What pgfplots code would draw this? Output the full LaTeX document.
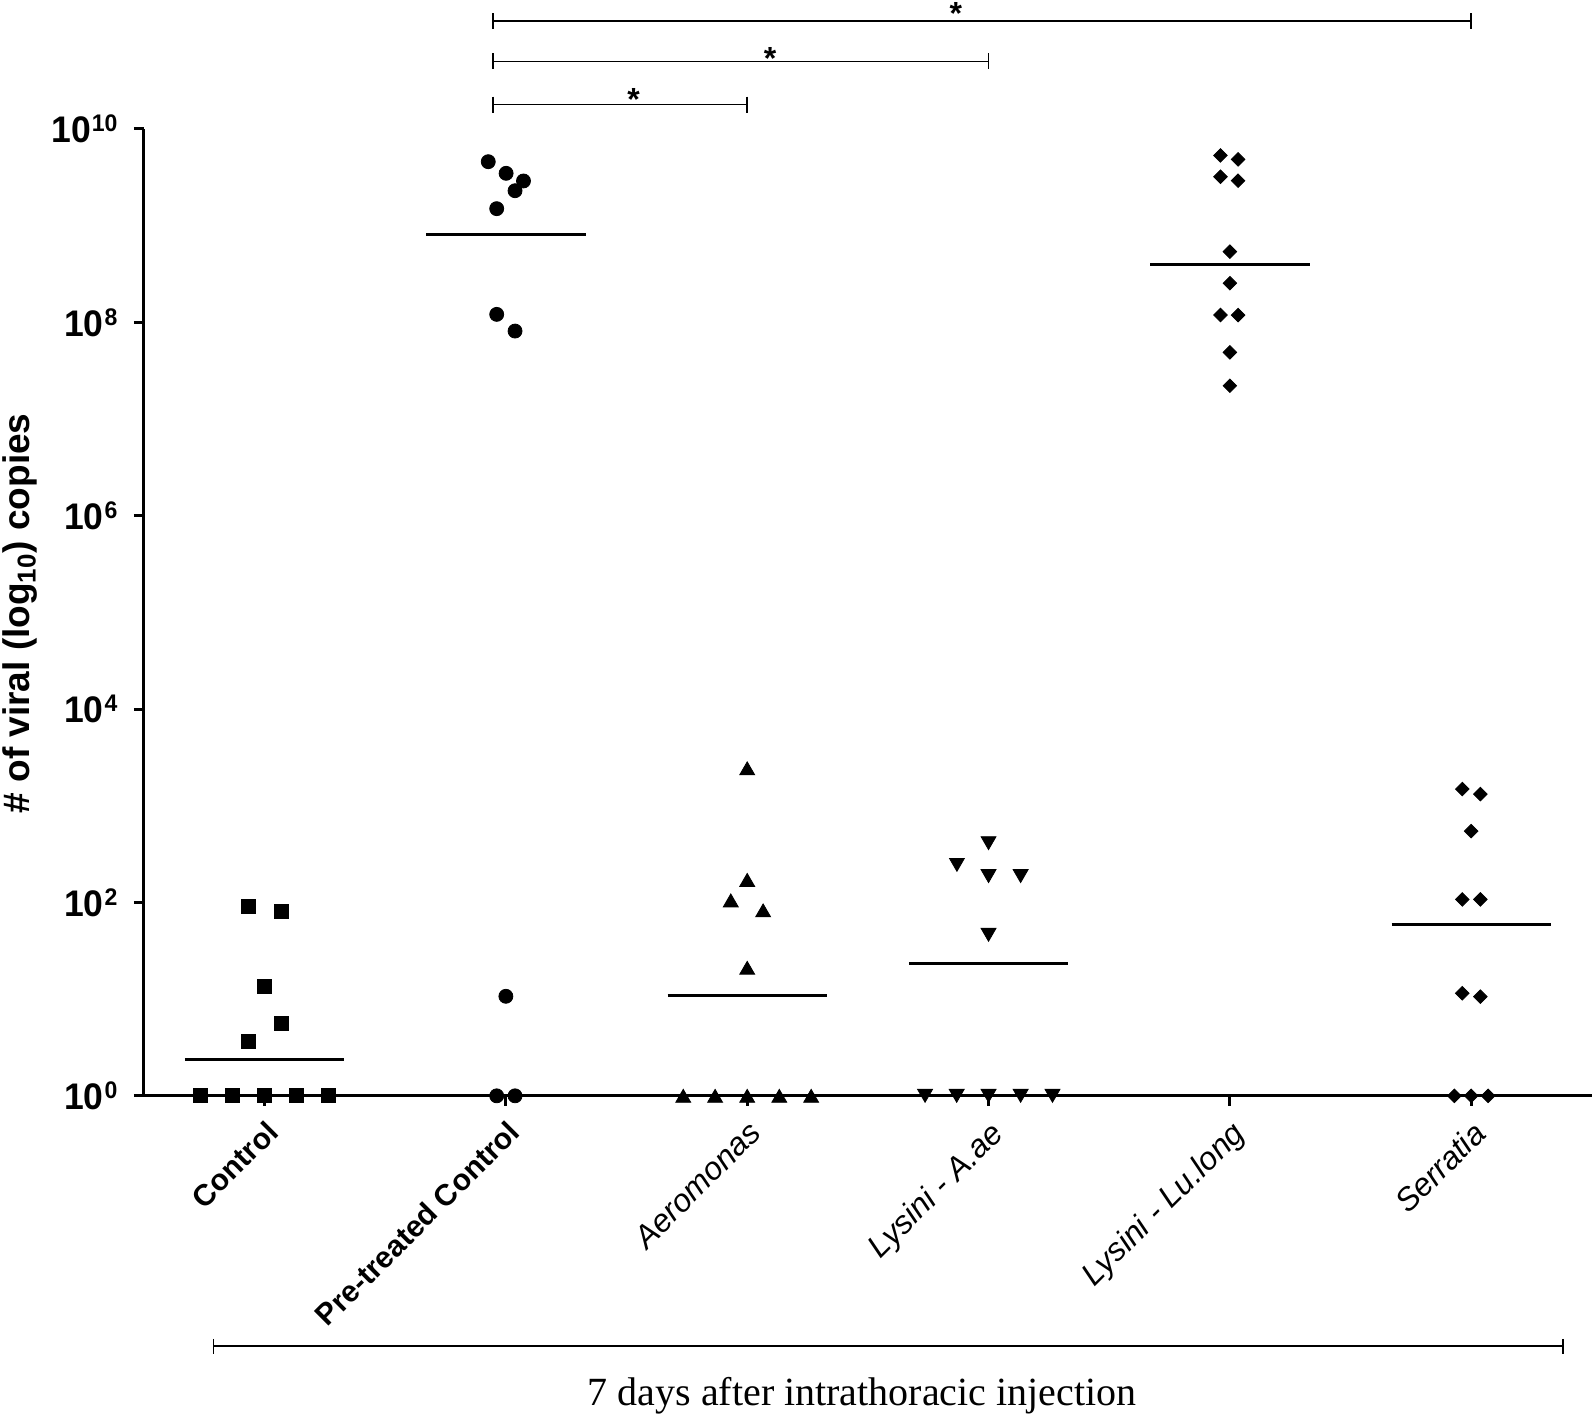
\documentclass[border=0pt]{standalone}
\usepackage{fontspec}
\setmainfont{Liberation Sans}
\newfontfamily\seriffont{Liberation Serif}
\usepackage{pgfplots}
\pgfplotsset{compat=1.18}
\newcommand{\ylab}[1]{\scalebox{0.96}[1]{\fontsize{18.5}{21}\selectfont\bfseries 10\hspace{0.5pt}\raisebox{5.5pt}{\fontsize{12}{13}\selectfont\bfseries #1}}}
\newcommand{\bracket}[5]{%
  \draw[line width=0.8pt] (axis cs:#1,#3) -- (axis cs:#2,#3);
  \draw[line width=0.8pt] (axis cs:#1,#3) ++(0pt,#4) -- ++(0pt,#5);
  \draw[line width=0.8pt] (axis cs:#2,#3) ++(0pt,#4) -- ++(0pt,#5);
}
\begin{document}
\begin{tikzpicture}
\begin{axis}[
  scale only axis, width=723.9pt, height=483.35pt,
  xmin=-0.5, xmax=5.5, ymode=log, ymin=1, ymax=1e10,
  axis x line=bottom, axis y line=left,
  axis line style={-, line width=1.5pt},
  clip=false,
  xtick={0,1,2,3,4,5},
  xticklabels={{\fontsize{15}{18}\selectfont\bfseries Control},{\fontsize{15}{18}\selectfont\bfseries Pre-treated Control},\textit{Aeromonas},\textit{Lysini - A.ae},\textit{Lysini - Lu.long},\textit{Serratia}},
  ytick={1,1e2,1e4,1e6,1e8,1e10},
  yticklabels={\ylab{0},\ylab{2},\ylab{4},\ylab{6},\ylab{8},\ylab{10}},
  yminorticks=false, xminorticks=false,
  tick align=outside, major tick length=5pt,
  every tick/.style={black, line width=1.5pt},
  xticklabel style={font=\fontsize{16}{19}\selectfont, yshift=-5pt, rotate=45, anchor=north east, inner sep=1pt},
  yticklabel style={anchor=east, inner sep=0pt, xshift=-8pt},
]
% Control
\addplot[only marks, mark=square*, mark size=3.5pt, black] coordinates {
(-0.265,1) (-0.133,1) (0,1) (0.133,1) (0.265,1)
(-0.067,90.2) (0.068,81.5) (0,13.7) (0.068,5.6) (-0.067,3.7)};
% Pre-treated Control
\addplot[only marks, mark=*, mark size=3.5pt, black] coordinates {
(0.927,4.59e9) (1.001,3.48e9) (1.073,2.90e9) (1.038,2.30e9) (0.962,1.50e9)
(0.962,1.21e8) (1.038,8.13e7) (1,10.7) (0.962,1) (1.038,1)};
% Aeromonas
\addplot[only marks, mark=triangle*, mark size=4.3pt, black, mark options={yshift=-1.07pt}] coordinates {
(2,2440) (2,171) (1.932,105) (2.066,82.8) (2,21.1)
(1.735,1) (1.867,1) (2,1) (2.133,1) (2.265,1)};
% Lysini - A.ae
\addplot[only marks, mark=triangle*, mark size=4.3pt, black, mark options={rotate=180, yshift=-1.07pt}] coordinates {
(3,411) (2.869,245) (3,187.5) (3.133,187.5) (3,46.3)
(2.737,1) (2.868,1) (3,1) (3.133,1) (3.265,1)};
% Lysini - Lu.long
\addplot[only marks, mark=square*, mark size=2.4pt, black, mark options={rotate=45}] coordinates {
(3.961,5.33e9) (4.034,4.85e9) (3.961,3.21e9) (4.034,2.92e9) (4,5.38e8)
(4,2.54e8) (3.961,1.19e8) (4.034,1.19e8) (4,4.90e7) (4,2.21e7)};
% Serratia
\addplot[only marks, mark=square*, mark size=2.4pt, black, mark options={rotate=45}] coordinates {
(4.963,1489) (5.038,1321) (5,547) (4.963,107.6) (5.038,107.6)
(4.963,11.5) (5.038,10.6) (4.93,1) (5,1) (5.07,1)};
% medians
\addplot[no marks, line width=1.5pt, black] coordinates {(-0.33,2.35) (0.33,2.35)};
\addplot[no marks, line width=1.5pt, black] coordinates {(0.67,8.1e8) (1.33,8.1e8)};
\addplot[no marks, line width=1.5pt, black] coordinates {(1.67,11.0) (2.33,11.0)};
\addplot[no marks, line width=1.5pt, black] coordinates {(2.67,23.4) (3.33,23.4)};
\addplot[no marks, line width=1.5pt, black] coordinates {(3.67,3.98e8) (4.33,3.98e8)};
\addplot[no marks, line width=1.5pt, black] coordinates {(4.67,59.3) (5.33,59.3)};
% significance brackets
\bracket{0.947}{2}{1.79e10}{4pt}{-8pt}
\bracket{0.947}{3}{5.01e10}{4pt}{-8pt}
\bracket{0.947}{5}{1.30e11}{4pt}{-8pt}
\node[anchor=base, inner sep=0pt, font=\fontsize{16}{19}\selectfont\bfseries] at (axis cs:1.529,1.55e10) {*};
\node[anchor=base, inner sep=0pt, font=\fontsize{16}{19}\selectfont\bfseries] at (axis cs:2.095,4.1e10) {*};
\node[anchor=base, inner sep=0pt, font=\fontsize{16}{19}\selectfont\bfseries] at (axis cs:2.865,1.2e11) {*};
% bottom bracket and caption
\bracket{-0.211}{5.381}{2.57e-3}{3.75pt}{-7.5pt}
\node[anchor=base, inner sep=0pt, font=\seriffont\fontsize{20}{24}\selectfont] at (axis cs:2.476,6.3e-4) {7 days after intrathoracic injection};
% y label
\node[rotate=90, anchor=center, inner sep=0pt, font=\fontsize{18.5}{22}\selectfont\bfseries] at (axis description cs:-0.0855,0.499) {\# of viral (log\textsubscript{10}) copies};
\coordinate (BL) at (axis description cs:-0.09936,-0.33133);
\coordinate (TR) at (axis description cs:1.00148,1.13344);
\end{axis}
\pgfresetboundingbox
\useasboundingbox (BL) rectangle (TR);
\end{tikzpicture}
\end{document}
